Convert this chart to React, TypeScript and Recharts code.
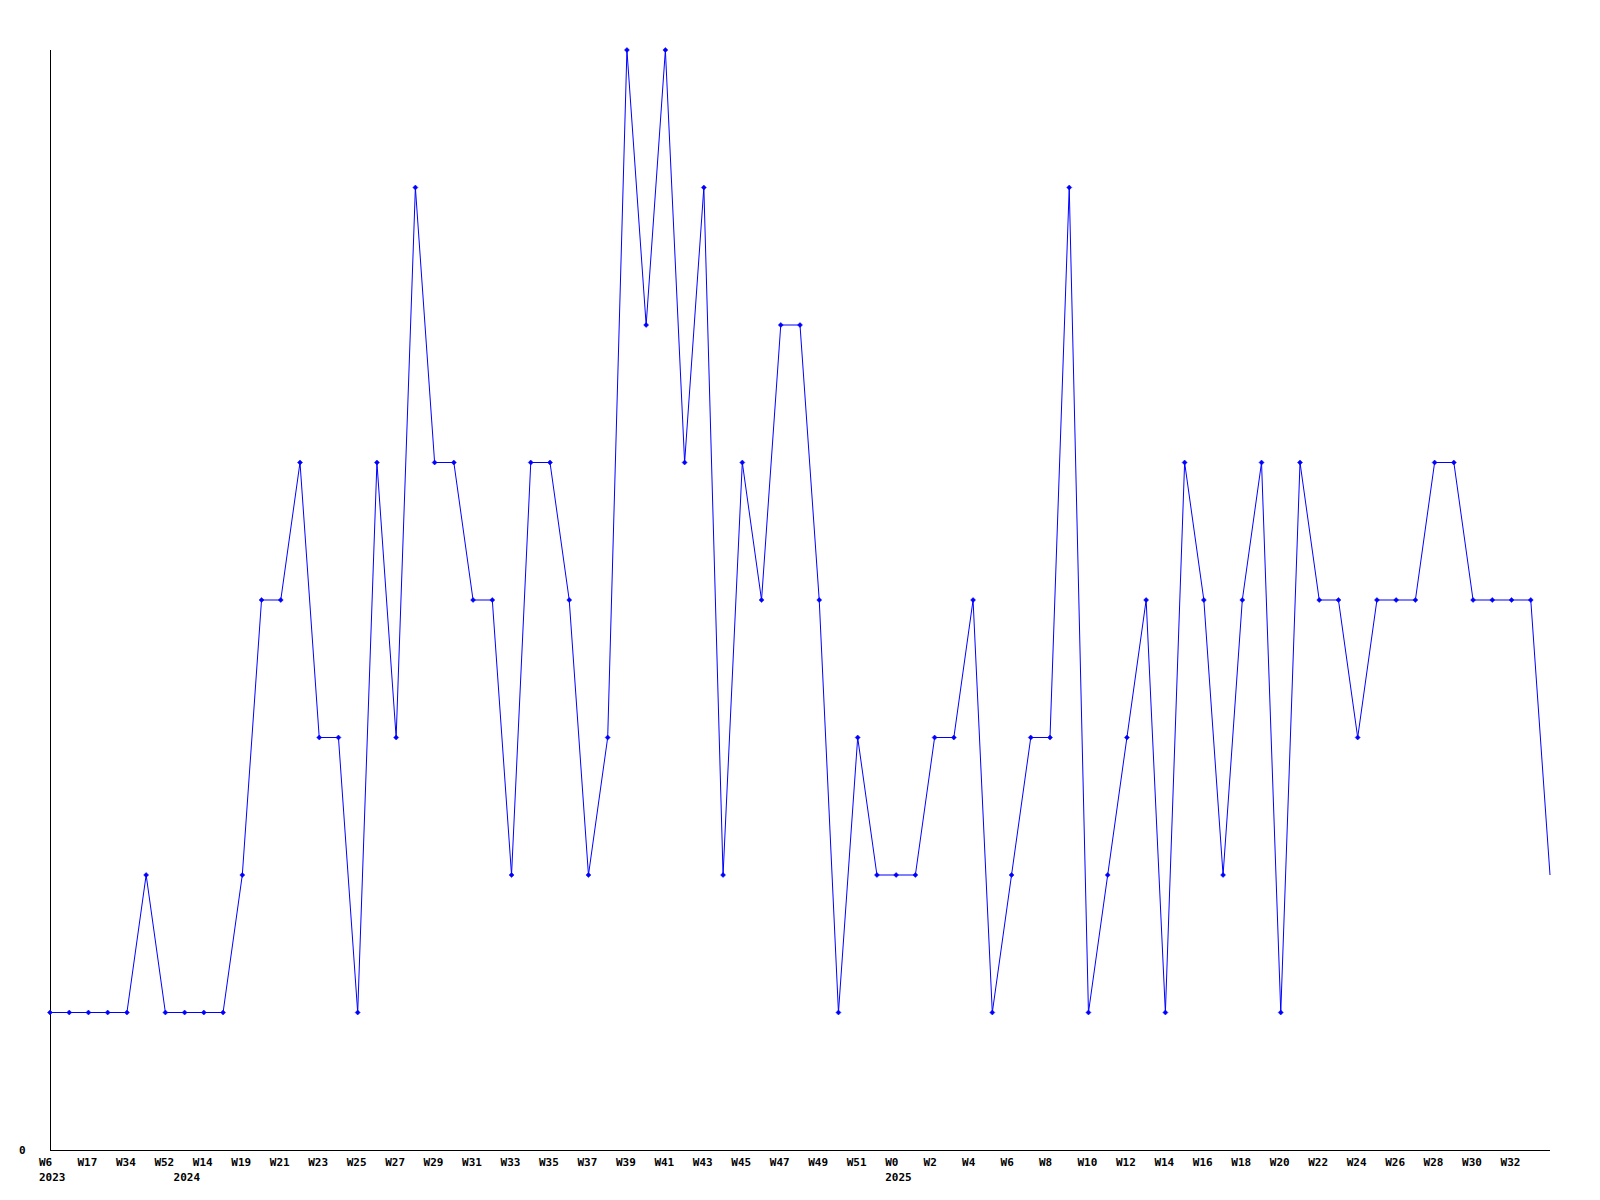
import React from 'react';
import { LineChart, Line, XAxis, YAxis } from 'recharts';

// ISO-week labels, one per point (only every second one is printed on the axis)
const weeks = [
  'W6', 'W10', 'W17', 'W25', 'W34', 'W45', 'W52', 'W1', 'W14', 'W18',
  'W19', 'W20', 'W21', 'W22', 'W23', 'W24', 'W25', 'W26', 'W27', 'W28',
  'W29', 'W30', 'W31', 'W32', 'W33', 'W34', 'W35', 'W36', 'W37', 'W38',
  'W39', 'W40', 'W41', 'W42', 'W43', 'W44', 'W45', 'W46', 'W47', 'W48',
  'W49', 'W50', 'W51', 'W52', 'W0', 'W1', 'W2', 'W3', 'W4', 'W5',
  'W6', 'W7', 'W8', 'W9', 'W10', 'W11', 'W12', 'W13', 'W14', 'W15',
  'W16', 'W17', 'W18', 'W19', 'W20', 'W21', 'W22', 'W23', 'W24', 'W25',
  'W26', 'W27', 'W28', 'W29', 'W30', 'W31', 'W32', 'W33', 'W34',
];

// year of each point
const years = [
  2023, 2023, 2023, 2023, 2023, 2023, 2023, 2024, 2024, 2024,
  2024, 2024, 2024, 2024, 2024, 2024, 2024, 2024, 2024, 2024,
  2024, 2024, 2024, 2024, 2024, 2024, 2024, 2024, 2024, 2024,
  2024, 2024, 2024, 2024, 2024, 2024, 2024, 2024, 2024, 2024,
  2024, 2024, 2024, 2024, 2025, 2025, 2025, 2025, 2025, 2025,
  2025, 2025, 2025, 2025, 2025, 2025, 2025, 2025, 2025, 2025,
  2025, 2025, 2025, 2025, 2025, 2025, 2025, 2025, 2025, 2025,
  2025, 2025, 2025, 2025, 2025, 2025, 2025, 2025, 2025,
];

const counts = [
  1, 1, 1, 1, 1, 2, 1, 1, 1, 1,
  2, 4, 4, 5, 3, 3, 1, 5, 3, 7,
  5, 5, 4, 4, 2, 5, 5, 4, 2, 3,
  8, 6, 8, 5, 7, 2, 5, 4, 6, 6,
  4, 1, 3, 2, 2, 2, 3, 3, 4, 1,
  2, 3, 3, 7, 1, 2, 3, 4, 1, 5,
  4, 2, 4, 5, 1, 5, 4, 4, 3, 4,
  4, 4, 5, 5, 4, 4, 4, 4, 2,
];

const yTicks = [0];

const data = counts.map((v, i) => ({
  key: `${years[i]}-${weeks[i]}-${i}`,
  week: weeks[i],
  year: years[i],
  value: v,
}));

const FONT = '"DejaVu Sans Mono", monospace';
const last = counts.length - 1;

const WeekTick = (props: any) => {
  const { x, y, index } = props;
  const d = data[index];
  if (!d) return null;
  const yearStart = index === 0 || years[index - 1] !== d.year;
  return (
    <g>
      {index % 2 === 0 && index < last && (
        <text x={x - 11} y={y + 16} textAnchor="start" fontFamily={FONT} fontWeight="bold" fontSize={11} fill="#000">
          {d.week}
        </text>
      )}
      {yearStart && (
        <text x={x - 11} y={y + 31} textAnchor="start" fontFamily={FONT} fontWeight="bold" fontSize={11} fill="#000">
          {d.year}
        </text>
      )}
    </g>
  );
};

const ZeroTick = (props: any) => {
  const { y, payload } = props;
  return (
    <text x={19} y={y + 4} textAnchor="start" fontFamily={FONT} fontWeight="bold" fontSize={11} fill="#000">
      {payload.value}
    </text>
  );
};

const Diamond = (props: any) => {
  const { cx, cy, index } = props;
  if (index === last || cx == null) return <g key={`d${index}`} />;
  const r = 2.5;
  return (
    <polygon
      key={`d${index}`}
      points={`${cx},${cy - r} ${cx + r},${cy} ${cx},${cy + r} ${cx - r},${cy}`}
      fill="#0000ff"
      stroke="#0000ff"
      strokeWidth={0.5}
    />
  );
};

export default function App() {
  return (
    <div style={{ position: 'absolute', left: 0, top: 0, width: 1600, height: 1200, background: '#fff' }}>
      <LineChart
        width={1600}
        height={1200}
        data={data}
        margin={{ top: 50, right: 50, left: 10, bottom: 0 }}
      >
        <XAxis
          dataKey="key"
          interval={0}
          height={50}
          tickLine={false}
          tickSize={0}
          tickMargin={0}
          axisLine={{ stroke: '#000', strokeWidth: 1, shapeRendering: 'crispEdges' }}
          tick={<WeekTick />}
        />
        <YAxis
          domain={[0, 8]}
          ticks={yTicks}
          width={40}
          tickLine={false}
          tickSize={0}
          axisLine={{ stroke: '#000', strokeWidth: 1, shapeRendering: 'crispEdges' }}
          tick={<ZeroTick />}
        />
        <Line
          type="linear"
          dataKey="value"
          stroke="#0000ff"
          strokeWidth={1}
          dot={<Diamond />}
          activeDot={false}
          isAnimationActive={false}
        />
      </LineChart>
    </div>
  );
}
